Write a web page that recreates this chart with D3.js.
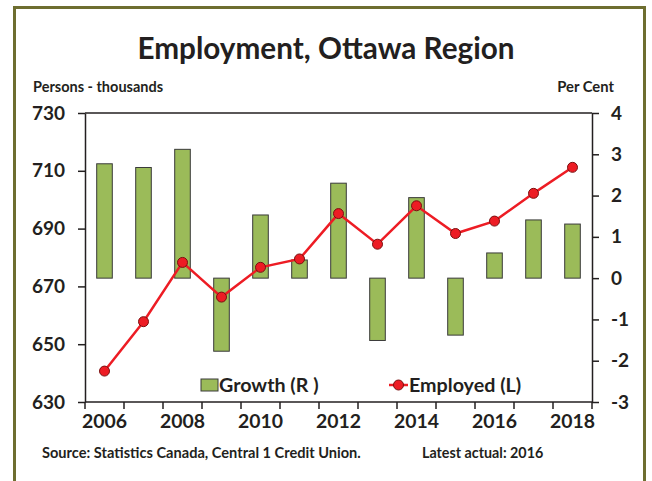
<!DOCTYPE html>
<html lang="en">
  <head>
    <meta charset="utf-8">
    <title>Employment, Ottawa Region</title>
    <style media="screen">
      body { margin: 0; background: #fff; }
      svg text { font-family: Lato, "Open Sans", sans-serif; font-weight: bold; fill: #231f20; }
    </style>
  </head>
  <body>
    <div id="graph-div"></div>

    <script src="https://d3js.org/d3.v7.min.js"></script>
    <script type="text/javascript">

    // data
    var years = [2006, 2007, 2008, 2009, 2010, 2011, 2012, 2013, 2014, 2015, 2016, 2017, 2018];
    var employed = [640.7, 657.8, 678.3, 666.3, 676.6, 679.5, 695.2, 684.6, 697.9, 688.3, 692.6, 702.2, 711.2];
    var growth = [2.77, 2.68, 3.12, -1.77, 1.53, 0.44, 2.30, -1.51, 1.95, -1.38, 0.61, 1.41, 1.31];
    var leftTicks = [630, 650, 670, 690, 710, 730];
    var rightTicks = [-3, -2, -1, 0, 1, 2, 3, 4];
    var yearLabels = [2006, 2008, 2010, 2012, 2014, 2016, 2018];

    var W = 652, H = 481;
    var plot = {left: 85, right: 592, top: 113, bottom: 402};

    var svg = d3.select("#graph-div")
      .append("svg")
        .attr("width", W)
        .attr("height", H);

    // outer frame
    svg.append("rect")
      .attr("x", 14.5).attr("y", 7.5)
      .attr("width", 630).attr("height", 490)
      .attr("fill", "none")
      .attr("stroke", "#6e6e30")
      .attr("stroke-width", 3);

    var x = d3.scaleBand()
        .domain(years)
        .range([plot.left, plot.right])
        .padding(0);

    var yL = d3.scaleLinear().domain([630, 730]).range([plot.bottom, plot.top]);
    var yR = d3.scaleLinear().domain([-3, 4]).range([plot.bottom, plot.top]);

    // title + axis captions
    svg.append("text")
      .attr("x", 326).attr("y", 59)
      .attr("text-anchor", "middle")
      .style("font-size", "29.7px")
      .text("Employment, Ottawa Region");

    svg.append("text")
      .attr("x", 33).attr("y", 92)
      .style("font-size", "14.5px")
      .text("Persons - thousands");

    svg.append("text")
      .attr("x", 614).attr("y", 92)
      .attr("text-anchor", "end")
      .style("font-size", "14.8px")
      .text("Per Cent");

    // bars (right axis)
    var bw = x.bandwidth() * 0.4;
    svg.append("g").selectAll("rect")
      .data(years)
      .enter()
      .append("rect")
        .attr("x", function(d) { return x(d) + (x.bandwidth() - bw) / 2; })
        .attr("y", function(d, i) { return yR(Math.max(0, growth[i])); })
        .attr("width", bw)
        .attr("height", function(d, i) { return Math.abs(yR(growth[i]) - yR(0)); })
        .attr("fill", "#9bbb59")
        .attr("stroke", "#3a3a3a")
        .attr("stroke-width", 1);

    // frame lines
    var frame = svg.append("g").attr("stroke", "#231f20").attr("stroke-width", 1.5);
    frame.append("line").attr("x1", plot.left).attr("x2", plot.right).attr("y1", plot.top).attr("y2", plot.top);
    frame.append("line").attr("x1", plot.left).attr("x2", plot.right).attr("y1", plot.bottom).attr("y2", plot.bottom);

    // plain hyphen for negatives, like the reference
    var fmt = function(d) { return String(d); };

    // left axis
    var axL = svg.append("g")
      .attr("transform", "translate(" + plot.left + ",0)")
      .call(d3.axisLeft(yL).tickValues(leftTicks).tickFormat(fmt).tickSize(7).tickPadding(13).tickSizeOuter(0));
    axL.selectAll("text").style("font-size", "19px").style("font-family", "Lato, sans-serif");

    // right axis
    var axR = svg.append("g")
      .attr("transform", "translate(" + plot.right + ",0)")
      .call(d3.axisRight(yR).tickValues(rightTicks).tickFormat(fmt).tickSize(7).tickPadding(12).tickSizeOuter(0));
    axR.selectAll("text").style("font-size", "19px").style("font-family", "Lato, sans-serif");

    [axL, axR].forEach(function(a) {
      a.selectAll("path, line").attr("stroke", "#231f20").attr("stroke-width", 1.5);
    });

    // bottom ticks at category boundaries
    var bounds = years.map(function(d) { return x(d); }).concat([plot.right]);
    svg.append("g").selectAll("line")
      .data(bounds)
      .enter()
      .append("line")
        .attr("x1", function(d) { return d; })
        .attr("x2", function(d) { return d; })
        .attr("y1", plot.bottom)
        .attr("y2", plot.bottom + 7)
        .attr("stroke", "#231f20")
        .attr("stroke-width", 1.5);

    svg.append("g").selectAll("text")
      .data(yearLabels)
      .enter()
      .append("text")
        .attr("x", function(d) { return x(d) + x.bandwidth() / 2; })
        .attr("y", 428)
        .attr("text-anchor", "middle")
        .style("font-size", "19.4px")
        .text(function(d) { return d; });

    // employed line (left axis)
    var line = d3.line()
      .x(function(d, i) { return x(years[i]) + x.bandwidth() / 2; })
      .y(function(d) { return yL(d); });

    svg.append("path")
      .datum(employed)
      .attr("d", line)
      .attr("fill", "none")
      .attr("stroke", "#ed1c24")
      .attr("stroke-width", 2.5);

    svg.append("g").selectAll("circle")
      .data(employed)
      .enter()
      .append("circle")
        .attr("cx", function(d, i) { return x(years[i]) + x.bandwidth() / 2; })
        .attr("cy", function(d) { return yL(d); })
        .attr("r", 5)
        .attr("fill", "#ed1c24")
        .attr("stroke", "#7a1010")
        .attr("stroke-width", 1);

    // legend
    var leg = svg.append("g");
    leg.append("rect")
      .attr("x", 201).attr("y", 379).attr("width", 17).attr("height", 12)
      .attr("fill", "#9bbb59").attr("stroke", "#3a3a3a").attr("stroke-width", 1);
    leg.append("text")
      .attr("x", 219).attr("y", 392)
      .style("font-size", "19.7px")
      .text("Growth (R )");

    leg.append("line")
      .attr("x1", 389).attr("x2", 408).attr("y1", 385).attr("y2", 385)
      .attr("stroke", "#ed1c24").attr("stroke-width", 2.5);
    leg.append("circle")
      .attr("cx", 398.5).attr("cy", 385).attr("r", 5)
      .attr("fill", "#ed1c24").attr("stroke", "#7a1010").attr("stroke-width", 1);
    leg.append("text")
      .attr("x", 409).attr("y", 392)
      .style("font-size", "19.7px")
      .text("Employed (L)");

    // footnotes
    svg.append("text")
      .attr("x", 42).attr("y", 458)
      .style("font-size", "14.6px")
      .text("Source: Statistics Canada, Central 1 Credit Union.");

    svg.append("text")
      .attr("x", 422).attr("y", 458)
      .style("font-size", "14.3px")
      .text("Latest actual: 2016");

    </script>
  </body>
</html>
